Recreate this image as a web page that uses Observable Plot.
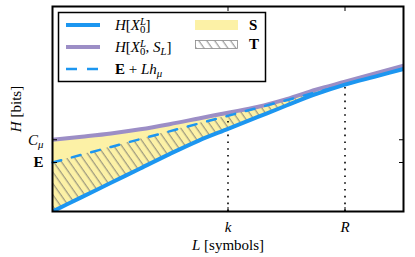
<!DOCTYPE html>
<html><head><meta charset="utf-8">
<script src="https://cdn.jsdelivr.net/npm/d3@7"></script>
<script src="https://cdn.jsdelivr.net/npm/@observablehq/plot@0.6"></script>
<style>body{margin:0;background:#fff}</style>
</head><body><div id="chart"></div>
<script>
// ---- data ----
const L     = [0, 1, 2, 3, 4, 5, 6, 7, 8, 9, 10, 11, 12];
const H_X   = [0, 0.70, 1.40, 2.10, 2.80, 3.46, 4.03, 4.60, 5.17, 5.72, 6.19, 6.57, 6.95];   // H[X_0^L]
const H_XS  = [3.50, 3.65, 3.81, 4.01, 4.26, 4.54, 4.82, 5.10, 5.48, 5.94, 6.33, 6.72, 7.11]; // H[X_0^L, S_L]
const E_Lh  = [2.39, 2.77, 3.15, 3.53, 3.91, 4.29, 4.67, 5.05, 5.43, 5.81, 6.19, 6.57, 6.95]; // E + L h_mu
const markL = [6, 10];
const markNames = ["k", "R"];
const markTop = [4.67, 6.19];
const yTickValues = [3.50, 2.39];
const yTickNames = ["C_μ", "E"];
const legendLines = ["H[X_0^L]", "H[X_0^L, S_L]", "E + Lh_μ"];
const legendFills = ["S", "T"];
const xLabel = "L [symbols]";
const yLabel = "H [bits]";

const BLUE = "#1c96f0", PURPLE = "#9c8ec6", YELLOW = "#fcf1a6", HATCH = "#666";
const FS = 15;

const rows = L.map((l, i) => ({L: l, hx: H_X[i], hxs: H_XS[i], e: E_Lh[i]}));
const hatchRows = rows.filter(d => d.L <= markL[1]);
const marks = markL.map((l, i) => ({L: l, top: markTop[i]}));

const svg = Plot.plot({
  width: 415, height: 257,
  marginLeft: 52, marginRight: 12, marginTop: 6, marginBottom: 46,
  style: {fontFamily: "'Liberation Serif', serif", fontSize: FS + "px", background: "white", color: "black"},
  x: {domain: [0, 12]},
  y: {domain: [0, 10]},
  marks: [
    Plot.areaY(rows, {x: "L", y1: "hx", y2: "hxs", fill: YELLOW, curve: "monotone-x"}),
    Plot.areaY(hatchRows, {x: "L", y1: "hx", y2: "e", fill: "url(#hatchT)", curve: "monotone-x"}),
    Plot.ruleX(marks, {x: "L", y: "top", stroke: "black", strokeWidth: 1.6, strokeDasharray: "1.6,5.2"}),
    Plot.line(rows, {x: "L", y: "hxs", stroke: PURPLE, strokeWidth: 4, curve: "monotone-x", clip: true}),
    Plot.line(hatchRows, {x: "L", y: "e", stroke: BLUE, strokeWidth: 2.5, strokeDasharray: "9,11"}),
    Plot.line(rows, {x: "L", y: "hx", stroke: BLUE, strokeWidth: 4, curve: "monotone-x", clip: true}),
    Plot.frame({stroke: "black", strokeWidth: 2}),
    Plot.axisX({anchor: "bottom", ticks: markL, tickSize: -4, tickFormat: () => "", label: null}),
    Plot.axisX({anchor: "top", ticks: markL, tickSize: -4, tickFormat: () => "", label: null}),
    Plot.axisY({anchor: "left", ticks: yTickValues, tickSize: -5, tickFormat: () => "", label: null}),
    Plot.axisY({anchor: "right", ticks: yTickValues, tickSize: -5, tickFormat: () => "", label: null}),
    Plot.axisX({anchor: "bottom", ticks: markL, tickSize: 0, tickPadding: 10,
      tickFormat: d => markNames[markL.indexOf(d)], label: xLabel, labelAnchor: "center", labelOffset: 38}),
    Plot.axisY({anchor: "left", ticks: yTickValues, tickSize: 0, tickPadding: 9,
      tickFormat: d => yTickNames[yTickValues.indexOf(d)], label: yLabel, labelAnchor: "center", labelOffset: 42})
  ]
});
document.getElementById("chart").appendChild(svg);

// ---- rich (math-like) text ----
const NS = "http://www.w3.org/2000/svg";
const PARTS = {
  "k": [["k", "i"]],
  "R": [["R", "i"]],
  "C_μ": [["C", "i"], ["μ", "i_"]],
  "E": [["E", "b"]],
  "L [symbols]": [["L", "i"], [" [symbols]", ""]],
  "H [bits]": [["H", "i"], [" [bits]", ""]],
  "H[X_0^L]": [["H", "i"], ["[", ""], ["X", "i"], ["L", "i^"], ["0", "_", -6], ["]", ""]],
  "H[X_0^L, S_L]": [["H", "i"], ["[", ""], ["X", "i"], ["L", "i^"], ["0", "_", -6], [", ", ""], ["S", "i"], ["L", "i_"], ["]", ""]],
  "E + Lh_μ": [["E", "b"], [" + ", ""], ["L", "i"], ["h", "i"], ["μ", "i_"]],
  "S": [["S", "b"]],
  "T": [["T", "b"]]
};
function rich(el, key, fs) {
  const parts = PARTS[key];
  if (!parts) return;
  el.textContent = "";
  let shift = 0;
  for (const [t, f, dx] of parts) {
    const target = f.includes("^") ? -0.36 * fs : f.includes("_") ? 0.22 * fs : 0;
    const ts = document.createElementNS(NS, "tspan");
    ts.textContent = t;
    if (f.includes("i")) ts.setAttribute("font-style", "italic");
    if (f.includes("b")) ts.setAttribute("font-weight", "bold");
    if (f.includes("^") || f.includes("_")) ts.setAttribute("font-size", 0.72 * fs);
    if (dx != null) ts.setAttribute("dx", dx);
    const dy = target - shift;
    if (dy !== 0) ts.setAttribute("dy", dy);
    shift = target;
    el.appendChild(ts);
  }
}
const s = d3.select(svg);
s.selectAll('g[aria-label="x-axis tick label"] text, g[aria-label="y-axis tick label"] text')
  .each(function() { rich(this, this.textContent, FS); });
s.selectAll('g[aria-label="x-axis label"] text').each(function() { rich(this, xLabel, FS); });
s.selectAll('g[aria-label="y-axis label"] text').each(function() { rich(this, yLabel, FS); });

// hatch pattern
const defs = s.insert("defs", ":first-child");
const pat = defs.append("pattern").attr("id", "hatchT").attr("patternUnits", "userSpaceOnUse")
  .attr("width", 6.5).attr("height", 6.5).attr("patternTransform", "rotate(-35)");
pat.append("line").attr("x1", 3).attr("y1", -1).attr("x2", 3).attr("y2", 7.5)
  .attr("stroke", HATCH).attr("stroke-width", 0.8);

// legend
const lg = s.append("g").attr("font-size", FS).attr("text-anchor", "start");
lg.append("rect").attr("x", 58.5).attr("y", 12.5).attr("width", 207).attr("height", 69)
  .attr("fill", "white").attr("stroke", "black").attr("stroke-width", 1.5);
const lineStyles = [
  {stroke: BLUE, w: 4, dash: null},
  {stroke: PURPLE, w: 4, dash: null},
  {stroke: BLUE, w: 2.5, dash: "11,10"}
];
const rowY = [25, 47, 69];
legendLines.forEach((lab, i) => {
  lg.append("line").attr("x1", 66).attr("x2", 100).attr("y1", rowY[i]).attr("y2", rowY[i])
    .attr("stroke", lineStyles[i].stroke).attr("stroke-width", lineStyles[i].w)
    .attr("stroke-dasharray", lineStyles[i].dash);
  const t = lg.append("text").attr("x", 115).attr("y", rowY[i] + 5).attr("text-anchor", "start").node();
  rich(t, lab, FS);
});
lg.append("rect").attr("x", 195).attr("y", 20).attr("width", 43).attr("height", 10).attr("fill", YELLOW);
lg.append("rect").attr("x", 195.5).attr("y", 40.5).attr("width", 42).attr("height", 8)
  .attr("fill", "url(#hatchT)").attr("stroke", "#888").attr("stroke-width", 0.8);
const fillY = [30, 49];
legendFills.forEach((lab, i) => {
  const t = lg.append("text").attr("x", 249).attr("y", fillY[i]).attr("text-anchor", "start").node();
  rich(t, lab, FS);
});
</script>
</body></html>
